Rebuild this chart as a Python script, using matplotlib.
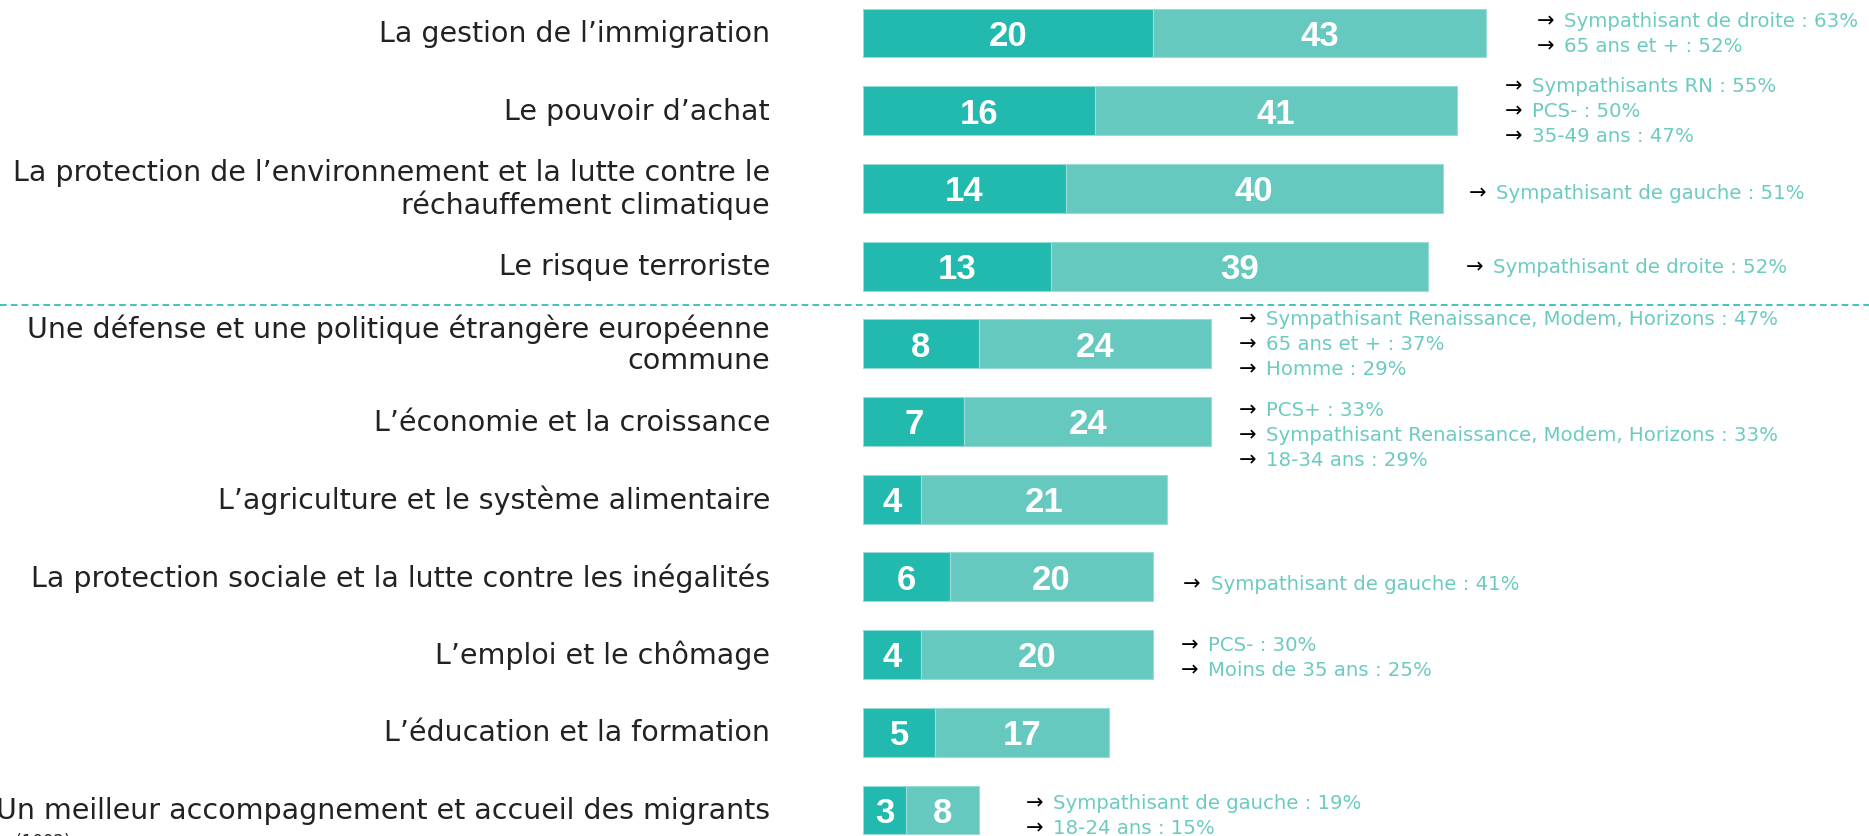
import matplotlib
matplotlib.use("Agg")
import matplotlib.pyplot as plt

# Thèmes jugés prioritaires : 1er rang (en premier) et total des citations
themes = [
    "La gestion de l\u2019immigration",
    "Le pouvoir d\u2019achat",
    "La protection de l\u2019environnement et la lutte contre le\nr\u00e9chauffement climatique",
    "Le risque terroriste",
    "Une d\u00e9fense et une politique \u00e9trang\u00e8re europ\u00e9enne\ncommune",
    "L\u2019\u00e9conomie et la croissance",
    "L\u2019agriculture et le syst\u00e8me alimentaire",
    "La protection sociale et la lutte contre les in\u00e9galit\u00e9s",
    "L\u2019emploi et le ch\u00f4mage",
    "L\u2019\u00e9ducation et la formation",
    "Un meilleur accompagnement et accueil des migrants",
]
en_premier = [20, 16, 14, 13, 8, 7, 4, 6, 4, 5, 3]
total = [43, 41, 40, 39, 24, 24, 21, 20, 20, 17, 8]

sur_representations = [
    ["Sympathisant de droite : 63%", "65 ans et + : 52%"],
    ["Sympathisants RN : 55%", "PCS- : 50%", "35-49 ans : 47%"],
    ["Sympathisant de gauche : 51%"],
    ["Sympathisant de droite : 52%"],
    ["Sympathisant Renaissance, Modem, Horizons : 47%", "65 ans et + : 37%", "Homme : 29%"],
    ["PCS+ : 33%", "Sympathisant Renaissance, Modem, Horizons : 33%", "18-34 ans : 29%"],
    [],
    ["Sympathisant de gauche : 41%"],
    ["PCS- : 30%", "Moins de 35 ans : 25%"],
    [],
    ["Sympathisant de gauche : 19%", "18-24 ans : 15%"],
]

# Mise en page des encadrés de commentaires (décalage après la barre, décalage vertical)
note_gap = [3.5, 3.3, 1.8, 2.6, 1.9, 1.9, 2.0, 2.1, 1.9, 2.0, 3.2]
note_dy = [0.0, 0.0, 0.05, 0.0, 0.0, 0.17, 0.0, 0.08, 0.03, 0.0, 0.06]

DARK = "#22b9ae"
LIGHT = "#66c9bf"
NOTE = "#6ccbc1"
LABEL_FONT = ["DejaVu Sans"]

W, H = 1869, 837
fig = plt.figure(figsize=(W / 100, H / 100), dpi=100)
x0 = 863
ax = fig.add_axes([x0 / W, 0, 1 - x0 / W, 1])
px_per_unit = 14.49
row_px = 77.7
first_center = 34
ax.set_xlim(0, (W - x0) / px_per_unit)
ax.set_ylim((H - first_center) / row_px, -first_center / row_px)
ax.axis("off")

rows = list(range(len(themes)))
bar_h = 0.63
reste = [t - p for t, p in zip(total, en_premier)]
ax.barh(rows, en_premier, height=bar_h, color=DARK, edgecolor="#9adcd5", linewidth=0.8)
ax.barh(rows, reste, left=en_premier, height=bar_h, color=LIGHT, edgecolor="#9adcd5", linewidth=0.8)

for r, (p, t) in enumerate(zip(en_premier, total)):
    ax.text(p / 2, r + 0.03, str(p), ha="center", va="center", color="white",
            fontsize=25, fontweight="bold", family="Liberation Sans")
    ax.text((p + t) / 2, r + 0.03, str(t), ha="center", va="center", color="white",
            fontsize=25, fontweight="bold", family="Liberation Sans")

# Libellés des thèmes à gauche
label_x = (770 - x0) / px_per_unit
for r, lab in enumerate(themes):
    ax.text(label_x, r, lab, ha="right", va="center", multialignment="right",
            fontsize=20.5, color="#222222", family=LABEL_FONT, linespacing=1.12,
            clip_on=False)

# Sur-représentations
line_step = 25 / row_px
for r, notes in enumerate(sur_representations):
    if not notes:
        continue
    ax_x = total[r] + note_gap[r]
    n = len(notes)
    for k, note in enumerate(notes):
        y = r + note_dy[r] + (k - (n - 1) / 2) * line_step
        ax.text(ax_x, y, "\u2192", ha="left", va="center", fontsize=15,
                color="black", family="DejaVu Sans")
        ax.text(ax_x + 1.9, y, note, ha="left", va="center", fontsize=14.2,
                color=NOTE, family=LABEL_FONT)

# Séparation entre les quatre premiers thèmes et les autres
ax.axhline(3.5, xmin=-x0 / (W - x0), xmax=1, color=DARK, linewidth=1.2,
           linestyle=(0, (4, 2.5)), clip_on=False)

fig.text(70 / W, 1 - 833 / H, "Base : ensemble (1002)", ha="right", va="top",
         fontsize=12, color="#222222", family=LABEL_FONT)

fig.savefig("out.png", dpi=100)
